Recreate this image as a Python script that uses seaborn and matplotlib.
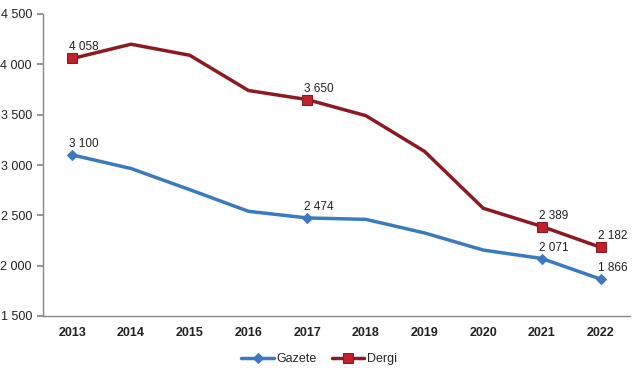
import matplotlib
matplotlib.use("Agg")
import matplotlib.pyplot as plt
import seaborn as sns
import pandas as pd

years = ["2013", "2014", "2015", "2016", "2017", "2018", "2019", "2020", "2021", "2022"]
gazete = [3100, 2965, 2755, 2540, 2474, 2460, 2325, 2155, 2071, 1866]
dergi = [4058, 4200, 4090, 3740, 3650, 3490, 3135, 2570, 2389, 2182]
labeled_idx = [0, 4, 8, 9]
yticks = [1500, 2000, 2500, 3000, 3500, 4000, 4500]

def fmt(v):
    return f"{v:,}".replace(",", " ")

sns.set_theme(style="white")
plt.rcParams["font.family"] = ["Liberation Sans", "DejaVu Sans"]

fig = plt.figure(figsize=(6.41, 3.80), dpi=100)
ax = fig.add_axes([43/641, 1 - 316/380, 587/641, 302/380])

df = pd.DataFrame({"x": range(len(years)), "Gazete": gazete, "Dergi": dergi})

sns.lineplot(data=df, x="x", y="Gazete", ax=ax, color="#3a7bbd", linewidth=2.5,
             marker="D", markersize=5, markevery=labeled_idx,
             markerfacecolor="#3f78c0", markeredgecolor="#3f78c0", label="Gazete")
sns.lineplot(data=df, x="x", y="Dergi", ax=ax, color="#8b1a22", linewidth=2.5,
             marker="s", markersize=7, markevery=labeled_idx,
             markerfacecolor="#c0212a", markeredgecolor="#8b1a22", label="Dergi")

for i in labeled_idx:
    for vals in (gazete, dergi):
        ax.annotate(fmt(vals[i]), (i, vals[i]), textcoords="offset pixels",
                    xytext=(-3, 5), ha="left", va="bottom", fontsize=8.5, color="#222222")

ax.set_xlim(-0.5, len(years) - 0.5)
ax.set_ylim(1500, 4500)
ax.set_yticks(yticks)
ax.set_yticklabels([fmt(v) for v in yticks], fontsize=9, color="#222222")
ax.set_xticks(range(len(years)))
ax.set_xticklabels(years, fontsize=9, fontweight="bold", color="#222222")
ax.set_xticks([i + 0.5 for i in range(-1, len(years))], minor=True)
ax.tick_params(axis="x", which="major", length=0, pad=8)
ax.tick_params(axis="x", which="minor", length=4, color="#888888", direction="out")
ax.tick_params(axis="y", length=4, color="#888888", direction="out", left=True, pad=4)
ax.set_xlabel("")
ax.set_ylabel("")
for s in ["top", "right"]:
    ax.spines[s].set_visible(False)
for s in ["left", "bottom"]:
    ax.spines[s].set_color("#888888")
    ax.spines[s].set_linewidth(1)

ax.legend(loc="upper center", bbox_to_anchor=(0.47, -0.085), ncol=2, frameon=False,
          fontsize=9, handlelength=2.6, columnspacing=1.2, handletextpad=0.2)

fig.savefig("out.png", dpi=100)
